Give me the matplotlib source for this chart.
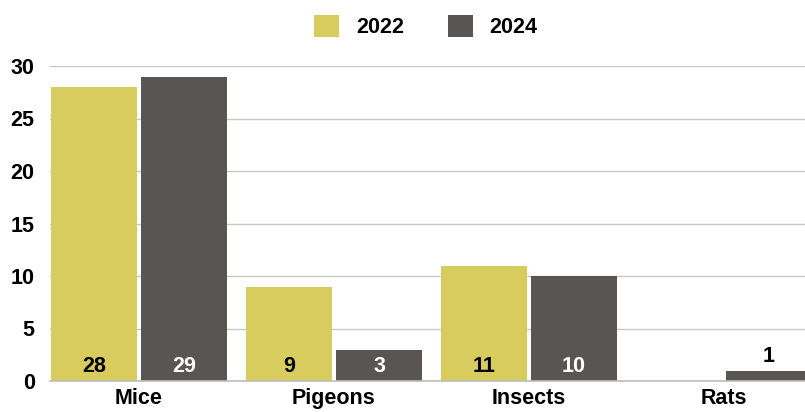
import numpy as np
import matplotlib.pyplot as plt

plt.rcParams['font.family'] = ['Liberation Sans', 'DejaVu Sans']

categories = ["Mice", "Pigeons", "Insects", "Rats"]
values_2022 = [28, 9, 11, 0]
values_2024 = [29, 3, 10, 1]
series_labels = ["2022", "2024"]

color_2022 = "#d9cc5e"
color_2024 = "#575654"
fs = 15.5

fig = plt.figure(figsize=(8.05, 4.12), dpi=100)
ax = fig.add_axes([50 / 805, 31 / 412, 755 / 805, 315 / 412])

x = np.arange(len(categories))
width = 0.441
offset = 0.2308

bars_a = ax.bar(x - offset, values_2022, width, color=color_2022, label=series_labels[0], zorder=2)
bars_b = ax.bar(x + offset, values_2024, width, color=color_2024, label=series_labels[1], zorder=2)

# value labels sit at the foot of each bar; short bars get theirs on top
for bars, txt_color in [(bars_a, "black"), (bars_b, "white")]:
    for b in bars:
        v = b.get_height()
        if v == 0:
            continue
        cx = b.get_x() + b.get_width() / 2
        if v >= 2.5:
            ax.text(cx, 1.4, f"{v:g}", ha="center", va="center", color=txt_color,
                    fontsize=fs, fontweight="bold", zorder=3)
        else:
            ax.text(cx, v + 1.3, f"{v:g}", ha="center", va="center", color="black",
                    fontsize=fs, fontweight="bold", zorder=3)

ax.set_xlim(-0.456, 3.415)
ax.set_ylim(0, 30)
ax.set_yticks(range(0, 31, 5))
ax.set_xticks(x)
ax.set_xticklabels(categories)
ax.yaxis.grid(True, color="#c8c8c8", linewidth=1, zorder=0)
ax.set_axisbelow(True)

for side in ["top", "right", "left"]:
    ax.spines[side].set_visible(False)
ax.spines["bottom"].set_color("#bcbcbc")
ax.spines["bottom"].set_linewidth(1.2)

ax.tick_params(axis="both", length=0, labelsize=fs)
ax.tick_params(axis="y", pad=11)
ax.tick_params(axis="x", pad=5)
for lbl in ax.get_xticklabels() + ax.get_yticklabels():
    lbl.set_fontweight("bold")

leg = fig.legend(loc="upper center", bbox_to_anchor=(0.529, 1.01), ncol=2, frameon=False,
                 fontsize=fs, handlelength=1.15, handleheight=1.15, columnspacing=2.05,
                 handletextpad=0.77)
for t in leg.get_texts():
    t.set_fontweight("bold")

fig.savefig("out.png", dpi=100)
